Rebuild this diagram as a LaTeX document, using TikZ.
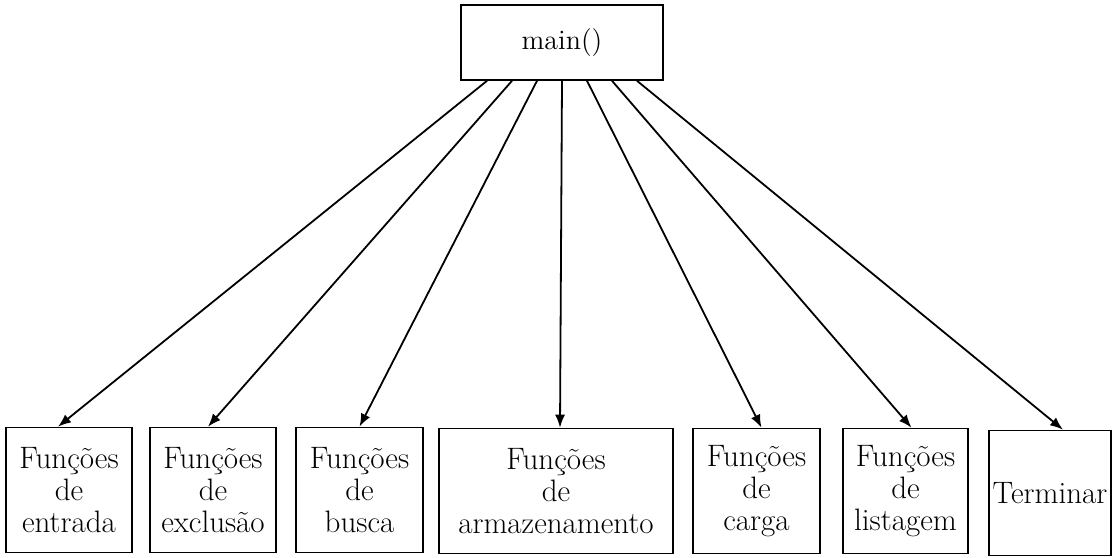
\documentclass[tikz,border=0pt]{standalone}
\usetikzlibrary{calc,arrows.meta}

\begin{document}
\begin{tikzpicture}[x=0.5pt,y=-0.5pt,
    caixa/.style={draw, line width=0.8pt, minimum height=62.5pt, inner sep=0pt,
                  align=center, font=\fontsize{15.5}{16}\selectfont},
    seta/.style={-{Latex[length=6.5pt,width=5pt]}, line width=0.9pt}]
  \useasboundingbox (0,0) rectangle (1113,557);

  % caixa principal
  \node[caixa, minimum width=101pt, minimum height=37.5pt,
        font=\fontsize{14}{16}\selectfont] (main) at (562,42.5) {main()};

  % caixas das funcoes
  \node[caixa, minimum width=63pt]   (entrada)  at (69,490)    {Funções\\de\\entrada};
  \node[caixa, minimum width=63pt]   (exclusao) at (213,490)   {Funções\\de\\exclusão};
  \node[caixa, minimum width=63.5pt] (busca)    at (359.5,490) {Funções\\de\\busca};
  \node[caixa, minimum width=117pt]  (armaz)    at (556,491)   {Funções\\de\\armazenamento};
  \node[caixa, minimum width=63.5pt] (carga)    at (756.5,491) {Funções\\de\\carga};
  \node[caixa, minimum width=62.5pt] (listagem) at (905.5,491) {Funções\\de\\listagem};
  \node[caixa, minimum width=61pt]   (terminar) at (1050,493)  {Terminar};

  % setas
  \foreach \alvo/\dx/\fim in {entrada/-75/-11, exclusao/-50/-5, busca/-25/0,
      armaz/0/4, carga/25/5, listagem/50/6, terminar/75/13}
    \draw[seta] ($(main.south)+(\dx,0)$) -- ($(\alvo.north)+(\fim,0)$);
\end{tikzpicture}
\end{document}
